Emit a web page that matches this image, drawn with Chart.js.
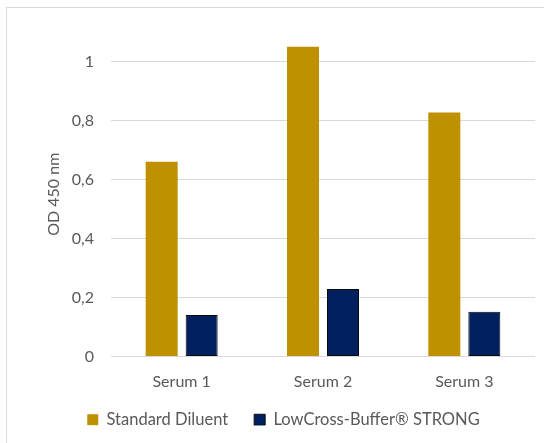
<!DOCTYPE html>
<html>
<head>
<meta charset="utf-8">
<script src="https://cdn.jsdelivr.net/npm/chart.js@4/dist/chart.umd.min.js"></script>
<style>
  html, body { margin: 0; padding: 0; background: #fff; }
  #wrap { position: relative; width: 544px; height: 443px; }
  #frame { position: absolute; left: 6px; top: 7px; width: 560px; height: 460px;
           border-left: 1px solid #d9d9d9; border-top: 1px solid #d9d9d9; pointer-events: none; }
  canvas { position: absolute; left: 0; top: 0; }
</style>
</head>
<body>
<div id="wrap">
  <canvas id="c" width="544" height="443"></canvas>
  <div id="frame"></div>
</div>
<script>
const categories = ['Serum 1', 'Serum 2', 'Serum 3'];
const standardDiluent = [0.66, 1.05, 0.827];
const lowCrossStrong = [0.141, 0.229, 0.152];
const seriesNames = ['Standard Diluent', 'LowCross-Buffer\u00AE STRONG'];
const yTickValues = [0, 0.2, 0.4, 0.6, 0.8, 1];

const FONT = 'Lato, "Open Sans", sans-serif';
const GREY = '#595959';

// Nudge the legend row so the wide item spacing does not eat into the axis area.
const legendNudge = {
  id: 'legendNudge',
  afterLayout(chart) {
    const lg = chart.legend;
    if (!lg) return;
    lg.top -= 12.5; lg.bottom -= 12.5;
    lg.left += 16; lg.right += 16;
  }
};

new Chart(document.getElementById('c'), {
  type: 'bar',
  data: {
    labels: categories,
    datasets: [
      { label: seriesNames[0], data: standardDiluent, backgroundColor: '#bf9000',
        borderWidth: 0, barPercentage: 0.8, categoryPercentage: 0.566 },
      { label: seriesNames[1], data: lowCrossStrong, backgroundColor: '#002060',
        borderColor: '#0a0a0a', borderWidth: 1, borderSkipped: false,
        barPercentage: 0.8, categoryPercentage: 0.566 }
    ]
  },
  plugins: [legendNudge],
  options: {
    responsive: false,
    animation: false,
    layout: { padding: { left: 0, right: 9, top: 32, bottom: 5 } },
    plugins: {
      tooltip: { enabled: false },
      legend: {
        position: 'bottom',
        maxHeight: 40,
        labels: {
          font: { family: FONT, size: 16.5 },
          color: GREY,
          boxWidth: 11,
          boxHeight: 11,
          padding: 26
        }
      }
    },
    scales: {
      x: {
        grid: { display: false, drawTicks: false },
        border: { display: false },
        ticks: { font: { family: FONT, size: 16 }, color: GREY, padding: 16 },
        afterFit: s => { s.height = 41.5; }
      },
      y: {
        min: 0,
        max: 1.1,
        ticks: {
          stepSize: 0.2,
          font: { family: FONT, size: 16 },
          color: GREY,
          padding: 17,
          callback: v => String(v).replace('.', ',')
        },
        afterBuildTicks: s => { s.ticks = yTickValues.map(v => ({ value: v })); },
        grid: { color: '#d9d9d9', lineWidth: 1, drawTicks: false },
        border: { display: false },
        title: { display: true, text: 'OD 450 nm', font: { family: FONT, size: 16 }, color: GREY,
                 padding: { top: 44, bottom: 0 } },
        afterFit: s => { s.width = 111; }
      }
    }
  }
});
</script>
</body>
</html>
